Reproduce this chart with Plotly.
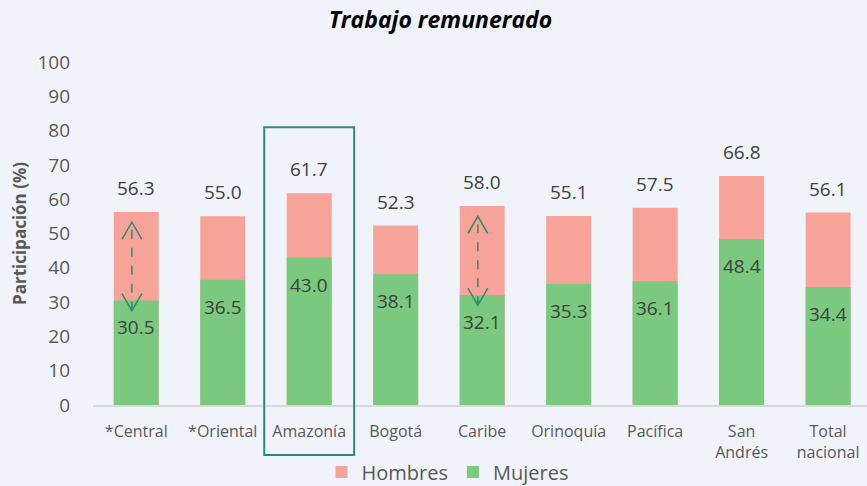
import plotly.graph_objects as go

categories = ["*Central", "*Oriental", "Amazonía", "Bogotá", "Caribe", "Orinoquía", "Pacífica", "San<br>Andrés", "Total<br>nacional"]
hombres = [56.3, 55.0, 61.7, 52.3, 58.0, 55.1, 57.5, 66.8, 56.1]
mujeres = [30.5, 36.5, 43.0, 38.1, 32.1, 35.3, 36.1, 48.4, 34.4]
y_ticks = [0, 10, 20, 30, 40, 50, 60, 70, 80, 90, 100]
arrow_cats = [0, 4]
highlight_cat = 2

FONT = "Open Sans"
C_H = "#F7A39A"
C_M = "#7BC97F"
TXT = "#404040"
GRAY = "#595959"
TEAL = "#2F8A6E"
BG = "#F1F3FA"

xs = list(range(len(categories)))

fig = go.Figure()
fig.add_trace(go.Bar(x=xs, y=hombres, name="Hombres", marker_color=C_H, width=0.52,
                     marker_line_width=0, hoverinfo="skip"))
fig.add_trace(go.Bar(x=xs, y=mujeres, name="Mujeres", marker_color=C_M, width=0.52,
                     marker_line_width=0, hoverinfo="skip"))

for i in xs:
    fig.add_annotation(x=i, y=hombres[i], text=f"{hombres[i]:.1f}", showarrow=False,
                       yshift=24, font=dict(family=FONT, size=19, color=TXT))
    fig.add_annotation(x=i, y=mujeres[i], text=f"{mujeres[i]:.1f}", showarrow=False,
                       yshift=-27, font=dict(family=FONT, size=19, color=TXT))

# double-headed dashed arrows
for i in arrow_cats:
    xc = i - 0.05
    lo = mujeres[i] - 3.0
    hi = hombres[i] - 3.0
    fig.add_shape(type="line", x0=xc, x1=xc, y0=lo, y1=hi, xref="x", yref="y",
                  line=dict(color=TEAL, width=1.5, dash="dash"))
    fig.add_shape(type="path", xref="x", yref="y",
                  path=f"M {xc-0.115} {hi-5} L {xc} {hi} L {xc+0.115} {hi-5}",
                  line=dict(color=TEAL, width=1.5))
    fig.add_shape(type="path", xref="x", yref="y",
                  path=f"M {xc-0.115} {lo+5} L {xc} {lo} L {xc+0.115} {lo+5}",
                  line=dict(color=TEAL, width=1.5))

# highlight box around Amazonía
fig.add_shape(type="rect", xref="x", yref="paper",
              x0=highlight_cat - 0.52, x1=highlight_cat + 0.52, y0=-0.146, y1=0.81,
              line=dict(color=TEAL, width=2), fillcolor="rgba(0,0,0,0)")

fig.update_layout(
    width=867, height=486,
    barmode="overlay",
    paper_bgcolor=BG,
    plot_bgcolor=BG,
    margin=dict(l=93, r=0, t=62, b=81, autoexpand=False),
    title=dict(text="<b><i>Trabajo remunerado</i></b>", x=0.508, xanchor="center", y=0.975, yanchor="top",
               font=dict(family=FONT, size=23, color="#000000")),
    font=dict(family=FONT, color=GRAY),
    showlegend=True,
    legend=dict(orientation="h", x=0.458, xanchor="center", y=-0.195, yanchor="middle",
                font=dict(family=FONT, size=20, color=GRAY), itemwidth=30, tracegroupgap=0,
                bgcolor="rgba(0,0,0,0)", traceorder="normal"),
    xaxis=dict(tickmode="array", tickvals=xs, ticktext=categories, range=[-0.5, 8.45],
               showline=True, linecolor="#D9D9D9", linewidth=1.5, showgrid=False, zeroline=False,
               automargin=False, ticks="", ticklabelstandoff=11,
               tickfont=dict(family=FONT, size=16, color=GRAY)),
    yaxis=dict(range=[0, 100], tickvals=y_ticks, showgrid=False, zeroline=False, showline=False,
               automargin=False, ticks="", tickfont=dict(family=FONT, size=19, color=GRAY),
               ticklabelstandoff=22,
               title=dict(text="<b>Participación (%)</b>", font=dict(family=FONT, size=17, color=GRAY),
                          standoff=6)),
)

fig.write_html("out.html", config={"displayModeBar": False},
               post_script="document.body.style.margin='0';document.body.style.overflow='hidden';")
